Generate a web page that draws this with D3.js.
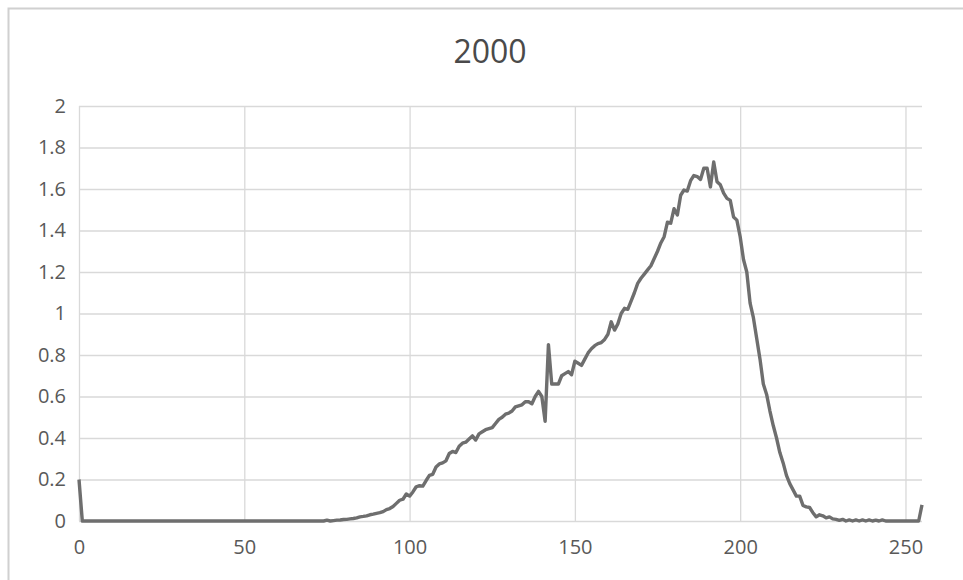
<!DOCTYPE html>
<html>
<head>
<meta charset="utf-8">
<script src="https://cdn.jsdelivr.net/npm/d3@7"></script>
<style>
  body { margin: 0; background: #fff; }
  svg { display: block; font-family: "Open Sans", "Noto Sans", sans-serif; }
</style>
</head>
<body>
<div id="chart"></div>
<script>
// Chart title
const title = '2000';

// Series values, one per level 0..255
const values = [
  0.2, 0, 0, 0, 0, 0, 0, 0, 0, 0,
  0, 0, 0, 0, 0, 0, 0, 0, 0, 0,
  0, 0, 0, 0, 0, 0, 0, 0, 0, 0,
  0, 0, 0, 0, 0, 0, 0, 0, 0, 0,
  0, 0, 0, 0, 0, 0, 0, 0, 0, 0,
  0, 0, 0, 0, 0, 0, 0, 0, 0, 0,
  0, 0, 0, 0, 0, 0, 0, 0, 0, 0,
  0, 0, 0, 0, 0, 0.004, 0, 0.002, 0.004, 0.005,
  0.007, 0.008, 0.01, 0.012, 0.015, 0.02, 0.022, 0.025, 0.03, 0.033,
  0.037, 0.04, 0.045, 0.055, 0.06, 0.07, 0.085, 0.1, 0.105, 0.13,
  0.12, 0.14, 0.165, 0.17, 0.168, 0.195, 0.22, 0.225, 0.26, 0.275,
  0.28, 0.29, 0.325, 0.335, 0.33, 0.36, 0.375, 0.38, 0.395, 0.41,
  0.39, 0.42, 0.43, 0.44, 0.445, 0.45, 0.47, 0.49, 0.5, 0.515,
  0.52, 0.53, 0.55, 0.555, 0.56, 0.575, 0.575, 0.565, 0.6, 0.625,
  0.6, 0.48, 0.85, 0.66, 0.66, 0.66, 0.7, 0.71, 0.72, 0.705,
  0.77, 0.76, 0.75, 0.78, 0.81, 0.83, 0.845, 0.855, 0.86, 0.875,
  0.9, 0.96, 0.92, 0.95, 1.0, 1.025, 1.02, 1.06, 1.1, 1.145,
  1.17, 1.19, 1.21, 1.23, 1.265, 1.3, 1.34, 1.37, 1.44, 1.435,
  1.505, 1.475, 1.57, 1.595, 1.59, 1.64, 1.665, 1.66, 1.646, 1.7,
  1.7, 1.61, 1.73, 1.635, 1.62, 1.58, 1.555, 1.545, 1.465, 1.45,
  1.37, 1.26, 1.2, 1.05, 0.98, 0.88, 0.78, 0.66, 0.61, 0.53,
  0.46, 0.4, 0.33, 0.28, 0.22, 0.18, 0.15, 0.12, 0.12, 0.075,
  0.068, 0.065, 0.04, 0.02, 0.03, 0.025, 0.015, 0.02, 0.01, 0.008,
  0.003, 0.008, 0, 0.005, 0, 0.005, 0, 0.005, 0, 0.005,
  0, 0.004, 0, 0.005, 0, 0, 0, 0, 0, 0,
  0, 0, 0, 0, 0, 0.078
];

// Axis ticks
const xTicks = [0, 50, 100, 150, 200, 250];
const yTicks = [0, 0.2, 0.4, 0.6, 0.8, 1, 1.2, 1.4, 1.6, 1.8, 2];

const width = 963;
const height = 580;
const margin = { top: 106, right: 41, bottom: 59, left: 79 };
const innerWidth = width - margin.left - margin.right;
const innerHeight = height - margin.top - margin.bottom;
const labelFont = '"Liberation Sans Narrow", "Open Sans", sans-serif';

const svg = d3.select('#chart').append('svg')
  .attr('width', width)
  .attr('height', height);

// Chart area border (runs off the right and bottom edges)
svg.append('rect')
  .attr('x', 8.5)
  .attr('y', 8.5)
  .attr('width', width + 20)
  .attr('height', height + 20)
  .attr('fill', 'none')
  .attr('stroke', '#d0d0d0')
  .attr('stroke-width', 2);

svg.append('text')
  .attr('x', 490)
  .attr('y', 63)
  .attr('text-anchor', 'middle')
  .style('font-size', '32px')
  .style('fill', '#4a4a4a')
  .text(title);

const g = svg.append('g')
  .attr('transform', `translate(${margin.left}, ${margin.top})`);

const xScale = d3.scaleLinear()
  .domain([0, values.length - 1])
  .range([0, innerWidth]);

const yScale = d3.scaleLinear()
  .domain([0, 2])
  .range([innerHeight, 0]);

// Horizontal gridlines
g.append('g')
  .attr('class', 'y-grid')
  .selectAll('line')
  .data(yTicks)
  .join('line')
  .attr('x1', 0)
  .attr('x2', innerWidth)
  .attr('y1', d => yScale(d) + 0.5)
  .attr('y2', d => yScale(d) + 0.5)
  .attr('stroke', '#d9d9d9')
  .attr('stroke-width', 1.3);

// Vertical gridlines
g.append('g')
  .attr('class', 'x-grid')
  .selectAll('line')
  .data(xTicks)
  .join('line')
  .attr('x1', d => xScale(d) + 0.5)
  .attr('x2', d => xScale(d) + 0.5)
  .attr('y1', 0)
  .attr('y2', innerHeight)
  .attr('stroke', '#d9d9d9')
  .attr('stroke-width', 1.3);

// Y axis labels
g.append('g')
  .attr('class', 'y-axis')
  .call(d3.axisLeft(yScale).tickValues(yTicks).tickSize(0).tickPadding(13).tickFormat(d => String(+d.toFixed(1))))
  .call(s => s.select('.domain').remove())
  .call(s => s.selectAll('text')
    .style('font-size', '20px')
    .style('font-family', labelFont)
    .attr('fill', '#595959'));

// X axis labels
g.append('g')
  .attr('class', 'x-axis')
  .attr('transform', `translate(0, ${innerHeight})`)
  .call(d3.axisBottom(xScale).tickValues(xTicks).tickSize(0).tickPadding(19))
  .call(s => s.select('.domain').remove())
  .call(s => s.selectAll('text')
    .style('font-size', '20px')
    .style('font-family', labelFont)
    .attr('fill', '#595959'));

// Series line
const line = d3.line()
  .x((d, i) => xScale(i))
  .y(d => yScale(d));

g.append('path')
  .datum(values)
  .attr('fill', 'none')
  .attr('stroke', '#6e6e6e')
  .attr('stroke-width', 3.4)
  .attr('stroke-linejoin', 'round')
  .attr('d', line);
</script>
</body>
</html>
